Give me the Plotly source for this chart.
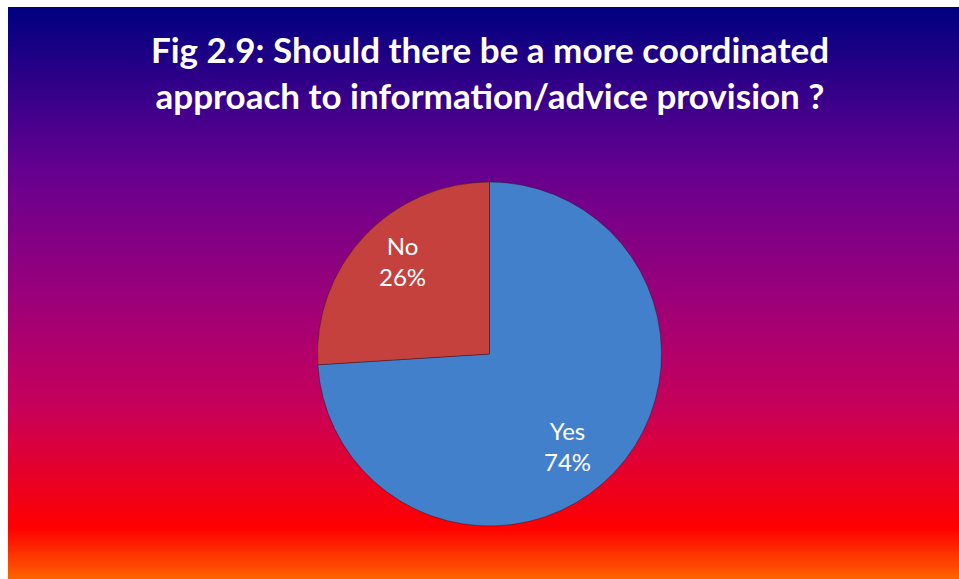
import numpy as np
import plotly.graph_objects as go

# Survey answers
answers = ["Yes", "No"]
shares = [74, 26]
slice_colors = ["#4380cc", "#c4413d"]

title_lines = [
    "Fig 2.9: Should there be a more coordinated",
    "approach to information/advice provision ?",
]

W, H = 959, 579

# Pie placement in pixels
CX, CY, R = 489.5, 354, 172
# Small per-label nudges (pixels) applied after bisector placement
label_nudge = {"Yes": (-12, -7), "No": (3, 8)}

# Background gradient (top -> bottom): navy, purple, magenta, red, orange
grad_stops = [
    (0.00, "#ff6400"),
    (0.09, "#ff0000"),
    (0.30, "#c8005a"),
    (0.50, "#9a007a"),
    (0.72, "#640090"),
    (1.00, "#000080"),
]
rows = np.linspace(0, 1, 300)
grad_z = np.tile(rows[:, None], (1, 2))

fig = go.Figure()

fig.add_trace(go.Heatmap(
    z=grad_z,
    x=[0, 1],
    y=rows,
    colorscale=[[s, c] for s, c in grad_stops],
    showscale=False,
    zsmooth="best",
    hoverinfo="skip",
    xaxis="x",
    yaxis="y",
))

fig.add_trace(go.Pie(
    labels=answers,
    values=shares,
    sort=False,
    direction="clockwise",
    rotation=0,
    marker=dict(colors=slice_colors,
                line=dict(color="rgba(30,15,15,0.4)", width=1)),
    textinfo="none",
    showlegend=False,
    domain=dict(x=[(CX - 260) / W, (CX + 260) / W],
                y=[1 - (CY + R) / H, 1 - (CY - R) / H]),
    hoverinfo="label+percent",
))

# Slice labels placed along each slice's bisector (clockwise from 12 o'clock)
total = sum(shares)
start = 0.0
annotations = []
for name, v in zip(answers, shares):
    frac = v / total
    mid = 2 * np.pi * (start + frac / 2)
    start += frac
    px = CX + 0.72 * R * np.sin(mid)
    py = CY - 0.72 * R * np.cos(mid)
    dx, dy = label_nudge[name]
    annotations.append(dict(
        x=px / W, y=1 - py / H, xref="paper", yref="paper",
        xshift=dx, yshift=dy,
        text=f"{name}<br>{round(frac * 100)}%",
        showarrow=False, xanchor="center", yanchor="middle",
        font=dict(family="Lato", size=24, color="white"),
    ))

fig.update_layout(
    width=W,
    height=H,
    margin=dict(l=0, r=0, t=0, b=0),
    paper_bgcolor="white",
    plot_bgcolor="white",
    xaxis=dict(domain=[8 / W, 1], range=[0, 1], visible=False, fixedrange=True),
    yaxis=dict(domain=[0, 1 - 7 / H], range=[0, 1], visible=False, fixedrange=True),
    annotations=annotations,
    title=dict(
        text="<b>" + "<br>".join(title_lines) + "</b>",
        x=490 / W,
        xanchor="center",
        y=1 - 63 / H,
        yanchor="top",
        font=dict(family="Lato", size=35, color="white"),
    ),
)

fig.write_html("out.html")
